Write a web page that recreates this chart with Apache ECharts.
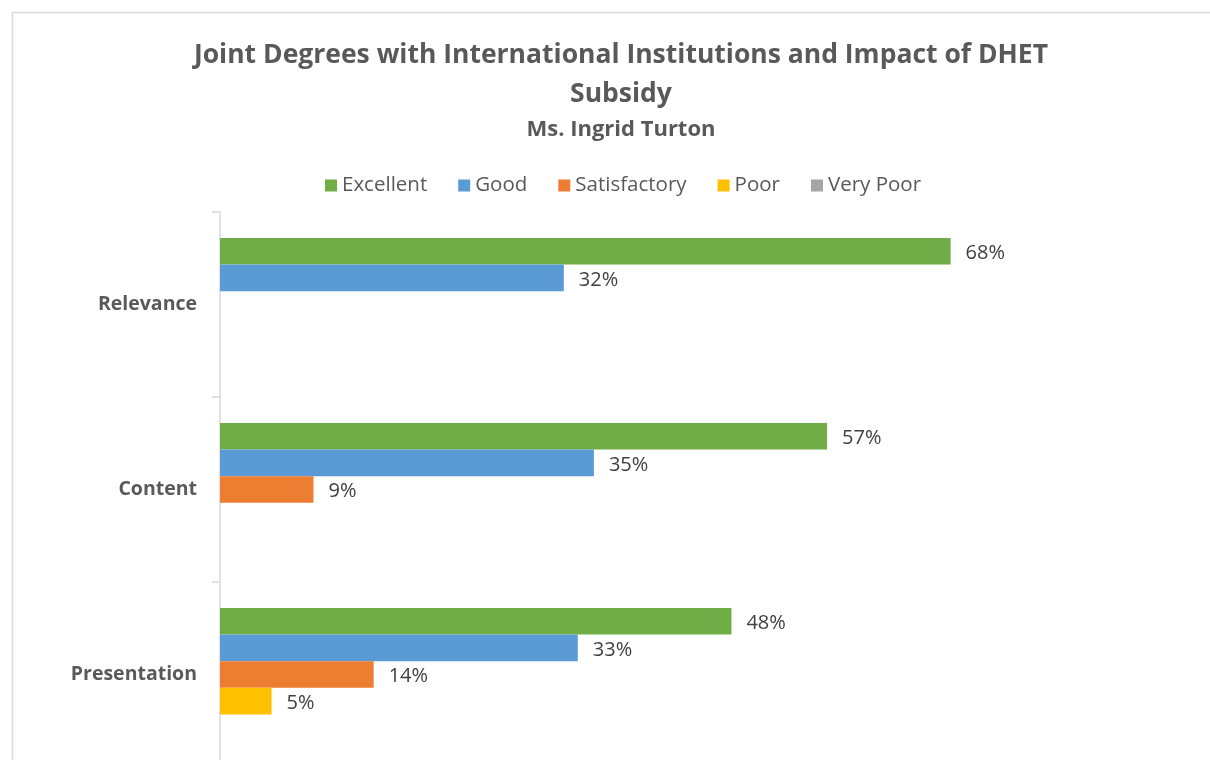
<!DOCTYPE html>
<html>
<head>
<meta charset="utf-8">
<script src="https://cdn.jsdelivr.net/npm/echarts@6/dist/echarts.min.js"></script>
<style>
  html, body { margin: 0; padding: 0; background: #fff; overflow: hidden; }
  /* chart is taller than the window: the bottom of the plot is cut off like in the original */
  #chart { width: 1210px; height: 790px; }
</style>
</head>
<body>
<div id="chart"></div>
<script>
// data (percent)
const categories = ['Relevance', 'Content', 'Presentation'];
const seriesNames = ['Excellent', 'Good', 'Satisfactory', 'Poor', 'Very Poor'];
const excellent = [68, 56.5, 47.6];
const good = [32, 34.8, 33.3];
const satisfactory = [0, 8.7, 14.3];
const poor = [0, 0, 4.8];
const veryPoor = [0, 0, 0];

const colors = ['#70ad47', '#5b9bd5', '#ed7d31', '#ffc000', '#a5a5a5'];
const values = [excellent, good, satisfactory, poor, veryPoor];
const font = '"Open Sans", "Noto Sans", sans-serif';

let chart = echarts.init(document.getElementById('chart'));

let series = seriesNames.map(function (name, i) {
  return {
    name: name,
    type: 'bar',
    barGap: '0%',
    barCategoryGap: '28%',
    itemStyle: { color: colors[i] },
    label: {
      show: true,
      position: 'right',
      distance: 15,
      offset: [0, 2],
      fontFamily: font,
      fontSize: 20,
      color: '#404040',
      formatter: function (p) {
        return p.value > 0 ? Math.round(p.value) + '%' : '';
      }
    },
    data: values[i]
  };
});

let option = {
  animation: false,
  backgroundColor: '#fff',
  color: colors,
  title: {
    text: 'Joint Degrees with International Institutions and Impact of DHET\nSubsidy',
    subtext: 'Ms. Ingrid Turton',
    left: 616,
    textAlign: 'center',
    top: 31,
    itemGap: 5,
    textStyle: {
      fontFamily: font,
      fontSize: 26.5,
      fontWeight: 'bold',
      color: '#595959',
      lineHeight: 39
    },
    subtextStyle: {
      fontFamily: font,
      fontSize: 22,
      lineHeight: 22,
      fontWeight: 'bold',
      color: '#595959'
    }
  },
  legend: {
    top: 170,
    left: 320,
    itemWidth: 12,
    itemHeight: 12,
    itemGap: 31,
    icon: 'rect',
    textStyle: { fontFamily: font, fontSize: 20.5, color: '#595959' },
    data: seriesNames
  },
  grid: { left: 220, top: 212, width: 967, height: 555 },
  xAxis: {
    type: 'value',
    min: 0,
    max: 90,
    show: false
  },
  yAxis: {
    type: 'category',
    inverse: true,
    data: categories,
    axisLine: { show: true, lineStyle: { color: '#d9d9d9', width: 1.5 } },
    axisTick: { show: true, length: 8, lineStyle: { color: '#d9d9d9', width: 1.5 } },
    axisLabel: {
      margin: 23,
      fontFamily: font,
      fontSize: 19.5,
      fontWeight: 'bold',
      color: '#595959'
    }
  },
  graphic: [{
    type: 'rect',
    shape: { x: 12.5, y: 12.5, width: 1220, height: 820 },
    style: { fill: 'none', stroke: '#d9d9d9', lineWidth: 1.5 },
    silent: true
  }],
  series: series
};

chart.setOption(option);
</script>
</body>
</html>
